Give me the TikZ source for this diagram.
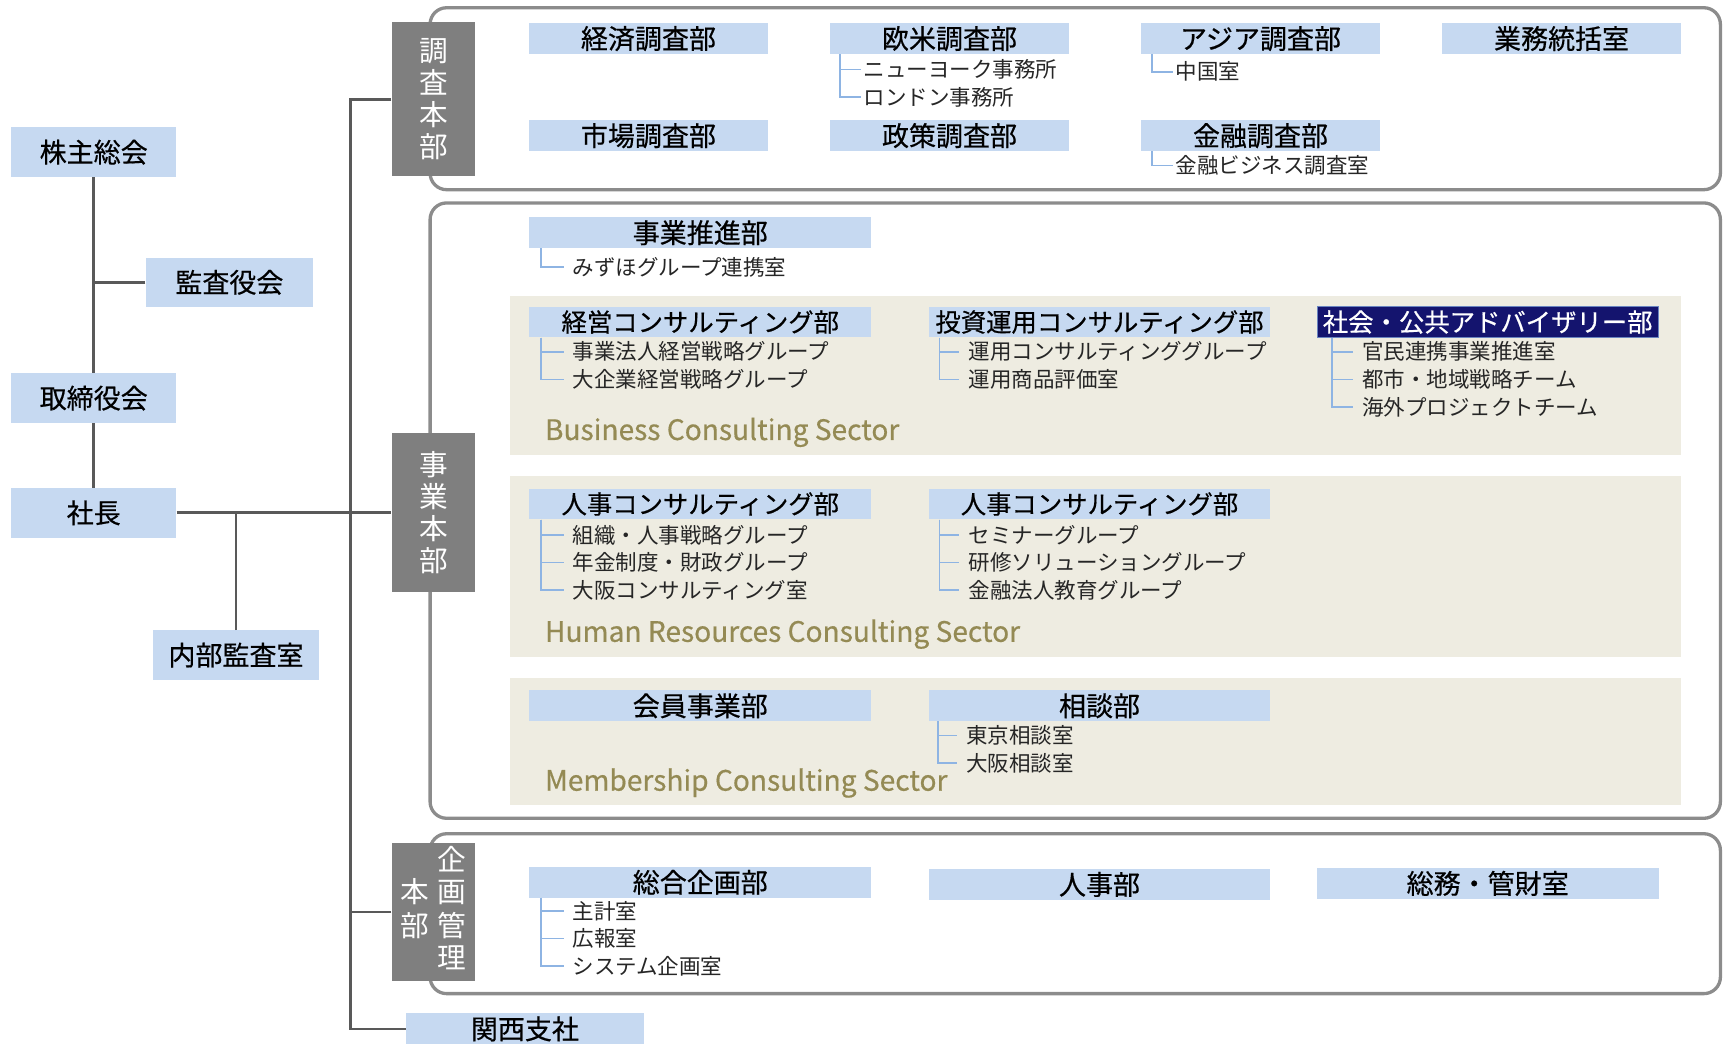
\documentclass[tikz,border=0pt]{standalone}
\usepackage{fontspec}
\setmainfont{Noto Sans CJK JP}
\newfontfamily\labelfont{Noto Sans CJK JP}[FakeBold=0.5]
\usetikzlibrary{positioning}
\definecolor{boxblue}{HTML}{C6D9F1}
\definecolor{treeblue}{HTML}{8EB4E3}
\definecolor{sectbg}{HTML}{EEECE1}
\definecolor{sectfg}{HTML}{948A54}
\definecolor{barfill}{HTML}{7F7F7F}
\definecolor{navybox}{HTML}{14146E}
\definecolor{linkgray}{HTML}{595959}
\definecolor{framegray}{HTML}{8C8C8C}
\tikzset{
  unit/.style={fill=boxblue, minimum height=28pt, inner sep=0pt, font=\labelfont\fontsize{24.5}{27}\selectfont},
  top/.style={unit, minimum width=150pt, minimum height=45pt},
  dept/.style={unit, minimum width=216pt},
  wide/.style={unit, minimum width=310pt},
  kana/.style={font=\labelfont\fontsize{23}{26}\selectfont},
  hq/.style={fill=barfill, text=white, minimum width=76pt, inner sep=0pt, align=center, font=\fontsize{26}{29}\selectfont},
  sub/.style={anchor=west, inner xsep=2pt, inner ysep=0pt, text=black!85, font=\fontsize{19.5}{22}\selectfont},
  subgap/.style={sub, inner xsep=8pt},
  tree/.style={draw=treeblue, line width=1.5pt},
  link/.style={draw=linkgray, line width=2.5pt},
  frame/.style={draw=framegray, line width=3pt, rounded corners=15pt},
  sector/.style={fill=sectbg},
  sectlabel/.style={anchor=west, inner sep=0pt, text=sectfg, font=\labelfont\fontsize{25.5}{28}\selectfont}
}
\begin{document}
\begin{tikzpicture}[x=1pt,y=-1pt]
		\useasboundingbox (0,0) rectangle (1566,946);
		% sectors and frames:
		\fill[sector] (462,268) rectangle (1524,413);
		\fill[sector] (462,432) rectangle (1524,596);
		\fill[sector] (462,615) rectangle (1524,730);
		\draw[frame] (390,7) rectangle (1560,172);
		\draw[frame] (390,184) rectangle (1560,742);
		\draw[frame] (390,756) rectangle (1560,901);
		% top management:
		\node[top] (gm) at (85,138) {株主総会};
		\node[top, minimum width=152pt] (aud) at (208,256) {監査役会};
		\node[top] (brd) at (85,361) {取締役会};
		\node[top] (pres) at (85,465) {社長};
		\node[top, minimum width=151pt] (ia) at (214,594) {内部監査室};
		\node[hq, minimum height=140pt] (hq1) at (393,90) {調\\査\\本\\部};
		\node[hq, minimum height=144pt] (hq2) at (393,465) {事\\業\\本\\部};
		\node[hq, minimum height=125pt] (hq3) at (393,827) {\begin{tabular}{@{}c@{}}本\\部\end{tabular}\hspace{8pt}\begin{tabular}{@{}c@{}}企\\画\\管\\理\end{tabular}};
		\node[dept] (ks) at (476,933) {関西支社};
		\coordinate (trunk) at (318,465);
		\draw[link] (gm.south)--(brd.north);
		\draw[link] (brd.south)--(pres.north);
		\draw[link] (aud.west)--(aud.west -| gm.south);
		\draw[link] (pres.east)--(hq2.west);
		\draw[link] (ia.north)--(ia.north |- pres.east);
		\draw[link] (hq1.west) -| (trunk) |- (ks.west);
		\draw[link] (hq3.west)--(hq3.west -| trunk);
		% research division:
		\node[dept] (econ) at (588,35) {経済調査部};
		\node[dept] (usa) at (861,35) {欧米調査部};
		\node[dept] (asia) at (1143,35) {アジア調査部};
		\node[dept] (ops) at (1416,35) {業務統括室};
		\node[dept] (mkt) at (588,123) {市場調査部};
		\node[dept] (pol) at (861,123) {政策調査部};
		\node[dept] (fin) at (1143,123) {金融調査部};
		\node[sub] (ny) at (781,63) {ニューヨーク事務所};
		\node[sub] (ldn) at (781,88) {ロンドン事務所};
		\node[sub] (chn) at (1064,65) {中国室};
		\node[sub] (finbiz) at (1064,150) {金融ビジネス調査室};
		\draw[tree] ([xshift=9pt]usa.south west) |- (ny.west);
		\draw[tree] ([xshift=9pt]usa.south west) |- (ldn.west);
		\draw[tree] ([xshift=10pt]asia.south west) |- (chn.west);
		\draw[tree] ([xshift=10pt]fin.south west) |- (finbiz.west);
		% business division:
		\node[wide] (promo) at (635,211) {事業推進部};
		\node[subgap] (mizuho) at (511,242) {みずほグループ連携室};
		\draw[tree] ([xshift=11pt]promo.south west) |- (mizuho.west);
		\node[wide, kana] (mgmt) at (635,292) {経営コンサルティング部};
		\node[subgap] (mgmt1) at (511,319) {事業法人経営戦略グループ};
		\node[subgap] (mgmt2) at (511,344) {大企業経営戦略グループ};
		\draw[tree] ([xshift=11pt]mgmt.south west) |- (mgmt1.west);
		\draw[tree] ([xshift=11pt]mgmt.south west) |- (mgmt2.west);
		\node[wide, kana] (inv) at (997,292) {投資運用コンサルティング部};
		\node[subgap] (inv1) at (870,319) {運用コンサルティンググループ};
		\node[subgap] (inv2) at (870,344) {運用商品評価室};
		\draw[tree] ([xshift=10pt]inv.south west) |- (inv1.west);
		\draw[tree] ([xshift=10pt]inv.south west) |- (inv2.west);
		\node[wide, kana, fill=navybox, draw=treeblue!70!navybox, text=white] (soc) at (1349,292) {社会・公共アドバイザリー部};
		\node[subgap] (soc1) at (1227,319) {官民連携事業推進室};
		\node[subgap] (soc2) at (1227,344) {都市・地域戦略チーム};
		\node[subgap] (soc3) at (1227,369) {海外プロジェクトチーム};
		\draw[tree] ([xshift=14pt]soc.south west) |- (soc1.west);
		\draw[tree] ([xshift=14pt]soc.south west) |- (soc2.west);
		\draw[tree] ([xshift=14pt]soc.south west) |- (soc3.west);
		\node[sectlabel] (bcs) at (494,392) {Business Consulting Sector};
		\node[wide, kana] (hr1) at (635,457) {人事コンサルティング部};
		\node[subgap] (hr11) at (511,485) {組織・人事戦略グループ};
		\node[subgap] (hr12) at (511,510) {年金制度・財政グループ};
		\node[subgap] (hr13) at (511,535) {大阪コンサルティング室};
		\draw[tree] ([xshift=11pt]hr1.south west) |- (hr11.west);
		\draw[tree] ([xshift=11pt]hr1.south west) |- (hr12.west);
		\draw[tree] ([xshift=11pt]hr1.south west) |- (hr13.west);
		\node[wide, kana] (hr2) at (997,457) {人事コンサルティング部};
		\node[subgap] (hr21) at (870,485) {セミナーグループ};
		\node[subgap] (hr22) at (870,510) {研修ソリューショングループ};
		\node[subgap] (hr23) at (870,535) {金融法人教育グループ};
		\draw[tree] ([xshift=10pt]hr2.south west) |- (hr21.west);
		\draw[tree] ([xshift=10pt]hr2.south west) |- (hr22.west);
		\draw[tree] ([xshift=10pt]hr2.south west) |- (hr23.west);
		\node[sectlabel] (hrcs) at (494,575) {Human Resources Consulting Sector};
		\node[wide] (mem) at (635,640) {会員事業部};
		\node[wide] (cns) at (997,640) {相談部};
		\node[subgap] (cns1) at (868,667) {東京相談室};
		\node[subgap] (cns2) at (868,692) {大阪相談室};
		\draw[tree] ([xshift=9pt]cns.south west) |- (cns1.west);
		\draw[tree] ([xshift=9pt]cns.south west) |- (cns2.west);
		\node[sectlabel] (mcs) at (494,710) {Membership Consulting Sector};
		% planning and administration:
		\node[wide] (plan) at (635,800) {総合企画部};
		\node[subgap] (plan1) at (511,826) {主計室};
		\node[subgap] (plan2) at (511,851) {広報室};
		\node[subgap] (plan3) at (511,876) {システム企画室};
		\draw[tree] ([xshift=11pt]plan.south west) |- (plan1.west);
		\draw[tree] ([xshift=11pt]plan.south west) |- (plan2.west);
		\draw[tree] ([xshift=11pt]plan.south west) |- (plan3.west);
		\node[wide] (hrd) at (997,802) {人事部};
		\node[wide] (gen) at (1349,801) {総務・管財室};
\end{tikzpicture}
\end{document}
